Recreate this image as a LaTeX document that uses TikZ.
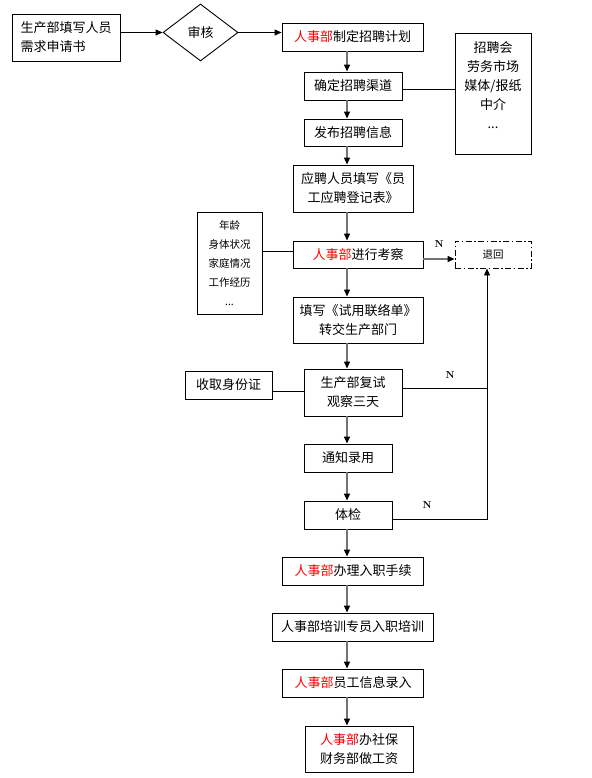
\documentclass[tikz,border=0pt]{standalone}
\usepackage{fontspec}
\newfontfamily\cjk{Noto Sans CJK SC}
\usepackage{tikz}
\usetikzlibrary{arrows.meta,shapes.geometric}
\newcommand{\hr}{\textcolor{red}{人事部}}

\begin{document}
\begin{tikzpicture}[x=1pt, y=-1pt,
    box/.style={draw, line width=0.9pt, inner sep=0pt, align=center, font=\cjk\fontsize{13}{19}\selectfont},
    small/.style={font=\cjk\fontsize{10.5}{19}\selectfont},
    flow/.style={-{Triangle[length=7pt, width=6pt, color=black]}, line width=1.3pt, black!55},
    link/.style={line width=0.9pt},
    tag/.style={font=\fontsize{10}{10}\bfseries\selectfont, inner sep=0pt}]
    \useasboundingbox (0, 0) rectangle (591, 778);

    % Request and approval
    \node[box, align=left, minimum width=108pt, minimum height=47pt] (req) at (66, 37.5) {生产部填写人员\\需求申请书};
    \node[box, shape=diamond, aspect=1.3, minimum width=75pt, minimum height=57pt] (check) at (200.5, 32.5) {审核};
    \node[box, minimum width=141pt, minimum height=28pt] (plan) at (352.5, 37) {\hr 制定招聘计划};

    % Recruiting
    \node[box, minimum width=98pt, minimum height=28pt] (channel) at (353, 86) {确定招聘渠道};
    \node[box, minimum width=98pt, minimum height=27pt] (publish) at (353, 132.5) {发布招聘信息};
    \node[box, minimum width=76pt, minimum height=121pt] (ways) at (493, 93.5) {招聘会\\劳务市场\\媒体/报纸\\中介\\...\\[-2pt]\mbox{}};
    \node[box, minimum width=120pt, minimum height=47pt] (apply) at (353, 188.5) {应聘人员填写《员\\工应聘登记表》};

    % Screening
    \node[box, minimum width=130pt, minimum height=27pt] (review) at (358, 254.5) {\hr 进行考察};
    \node[box, small, minimum width=65pt, minimum height=102pt] (items) at (229.5, 263) {年龄\\身体状况\\家庭情况\\工作经历\\...};
    \node[box, small, dash pattern=on 6pt off 2.5pt on 1.5pt off 2.5pt, minimum width=76pt, minimum height=27pt] (back) at (493, 254.5) {退回};
    \node[box, minimum width=130pt, minimum height=46pt] (trial) at (358, 320) {填写《试用联络单》\\转交生产部门};
    \node[box, minimum width=98pt, minimum height=47pt] (retest) at (353, 392.5) {生产部复试\\观察三天};
    \node[box, minimum width=87pt, minimum height=28pt] (idcard) at (228.5, 385) {收取身份证};
    \node[box, minimum width=88pt, minimum height=28pt] (notify) at (348, 458) {通知录用};
    \node[box, minimum width=88pt, minimum height=28pt] (exam) at (348, 515) {体检};

    % Onboarding
    \node[box, minimum width=141pt, minimum height=28pt] (entry) at (353, 571) {\hr 办理入职手续};
    \node[box, minimum width=161pt, minimum height=28pt] (train) at (352.5, 627) {人事部培训专员入职培训};
    \node[box, minimum width=141pt, minimum height=28pt] (record) at (353, 683) {\hr 员工信息录入};
    \node[box, minimum width=108pt, minimum height=46pt] (finance) at (359, 749) {\hr 办社保\\财务部做工资};

    \coordinate (spine) at (347, 0);
    \coordinate (rail) at (487, 0);

    % Top row
    \draw[link, -{Triangle[length=7pt, width=6pt]}] (req.east |- check.west) -- (check.west);
    \draw[link, -{Triangle[length=7pt, width=6pt]}] (check.east) -- (check.east -| plan.west);

    % Main column
    \foreach \a/\b in {plan/channel, channel/publish, publish/apply, apply/review,
        review/trial, trial/retest, retest/notify, notify/exam, exam/entry,
        entry/train, train/record, record/finance}
        \draw[flow] (\a.south -| spine) -- (\b.north -| spine);

    % Side notes
    \draw[link] ([yshift=-3pt]channel.east) -- ([yshift=-3pt]channel.east -| ways.west);
    \draw[link] ([yshift=3.5pt]review.west) -- ([yshift=3.5pt]review.west -| items.east);
    \draw[link] ([yshift=1.5pt]retest.west) -- ([yshift=1.5pt]retest.west -| idcard.east);

    % Rejections
    \draw[flow] ([yshift=-4.5pt]review.east) -- ([yshift=-4.5pt]review.east -| back.west);
    \draw[link] ([yshift=4.5pt]retest.east) -- ([yshift=4.5pt]retest.east -| rail);
    \draw[link, -{Triangle[length=7pt, width=6pt]}] ([yshift=-4pt]exam.east) -| (back.south -| rail);
    \node[tag] (n1) at (439, 244) {N};
    \node[tag] (n2) at (450, 375) {N};
    \node[tag] (n3) at (427, 505) {N};
\end{tikzpicture}
\end{document}
